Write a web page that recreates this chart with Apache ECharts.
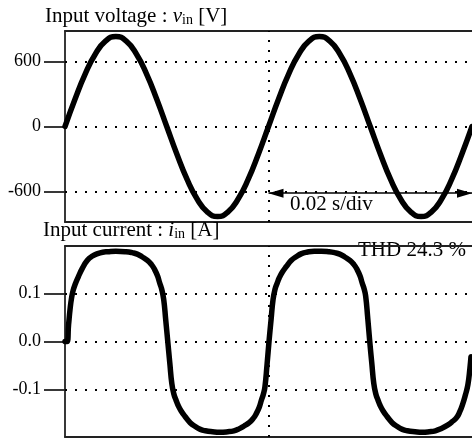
<!DOCTYPE html>
<html>
<head>
<meta charset="utf-8">
<script src="https://cdn.jsdelivr.net/npm/echarts@6/dist/echarts.min.js"></script>
<style>
  html, body { margin: 0; padding: 0; background: #fff; }
  #chart { width: 472px; height: 438px; }
</style>
</head>
<body>
<div id="chart"></div>
<script>
// Input voltage samples (time in ms, value in V)
const voltageTimeMs = [0, 1, 2, 3, 4, 5, 6, 7, 8, 9, 10, 11, 12, 13, 14, 15, 16, 17, 18, 19, 20,
  21, 22, 23, 24, 25, 26, 27, 28, 29, 30, 31, 32, 33, 34, 35, 36, 37, 38, 39, 40];
const voltageV = [0, 256, 488, 671, 789, 830, 789, 671, 488, 256, 0, -256, -488, -671, -789, -830, -789, -671, -488, -256, 0,
  256, 488, 671, 789, 830, 789, 671, 488, 256, 0, -256, -488, -671, -789, -830, -789, -671, -488, -256, 0];

// Input current samples (time in ms, value in A)
const currentTimeMs = [
  0, 0.2, 0.35, 0.5, 0.65, 0.8, 1.0, 1.3, 1.7, 2.2, 2.7, 3.2, 3.7, 4.2, 5.0,
  6.0, 6.6, 7.1, 7.6, 8.1, 8.5, 8.8, 9.1, 9.3, 9.5, 9.7, 9.9,
  10.1, 10.3, 10.5, 10.7, 10.9, 11.1, 11.4, 11.8, 12.3, 12.8, 13.3, 13.8, 14.5, 15.2,
  16.0, 16.6, 17.1, 17.6, 18.1, 18.5, 18.8, 19.1, 19.3, 19.5, 19.65, 19.85,
  20.05, 20.25, 20.45, 20.65, 20.85, 21.05, 21.35, 21.75, 22.25, 22.75, 23.25, 23.75, 24.5, 25.2,
  25.9, 26.5, 27.0, 27.5, 28.0, 28.4, 28.7, 29.0, 29.2, 29.4, 29.55, 29.75,
  29.95, 30.15, 30.35, 30.55, 30.75, 30.95, 31.25, 31.65, 32.15, 32.65, 33.15, 33.65, 34.4, 35.1,
  35.8, 36.4, 37.0, 37.6, 38.1, 38.5, 38.8, 39.1, 39.35, 39.6, 39.8, 39.9];
const currentA = [
  0, 0, 0.035, 0.068, 0.092, 0.107, 0.12, 0.135, 0.153, 0.17, 0.179, 0.184, 0.187, 0.188, 0.189,
  0.188, 0.186, 0.183, 0.177, 0.17, 0.161, 0.151, 0.137, 0.123, 0.11, 0.088, 0.045,
  0, -0.045, -0.088, -0.11, -0.122, -0.133, -0.145, -0.157, -0.17, -0.178, -0.184, -0.187, -0.189, -0.19,
  -0.189, -0.187, -0.183, -0.177, -0.17, -0.161, -0.151, -0.137, -0.123, -0.11, -0.095, -0.05,
  0, 0.045, 0.088, 0.11, 0.122, 0.133, 0.145, 0.157, 0.17, 0.178, 0.184, 0.187, 0.189, 0.189,
  0.188, 0.186, 0.183, 0.177, 0.17, 0.161, 0.151, 0.137, 0.123, 0.11, 0.095, 0.05,
  0, -0.045, -0.088, -0.11, -0.122, -0.133, -0.145, -0.157, -0.17, -0.178, -0.184, -0.187, -0.189, -0.19,
  -0.189, -0.187, -0.182, -0.175, -0.167, -0.159, -0.147, -0.13, -0.112, -0.09, -0.055, -0.032];

// Axis ticks and the time-division marker
const voltageTicks = [-600, 0, 600];
const currentTicks = [-0.1, 0, 0.1];
const divisionMs = [20, 40];
const divisionLabel = '0.02 s/div';
const thdLabel = 'THD 24.3 %';

const FONT = 'Liberation Serif';
const axisStyle = { color: '#222', width: 1.8 };
const dotStyle = { color: '#000', width: 2, type: [2, 8] };

const pairs = (xs, ys) => xs.map((x, i) => [x, ys[i]]);

function frameX(gridIndex, position) {
  return {
    type: 'value', gridIndex, position, min: 0, max: 40,
    axisLine: { show: true, onZero: false, lineStyle: axisStyle },
    axisTick: { show: false }, axisLabel: { show: false }, splitLine: { show: false }
  };
}
function leftY(gridIndex, min, max, ticks, fmt) {
  return {
    type: 'value', gridIndex, min, max,
    axisLine: { show: true, onZero: false, lineStyle: axisStyle },
    axisTick: { show: true, customValues: ticks, length: 21, inside: false, lineStyle: axisStyle },
    axisLabel: { customValues: ticks, margin: 24, fontFamily: FONT, fontSize: 18, color: '#000', formatter: fmt },
    splitLine: { show: false }
  };
}

const titleRich = {
  v: { fontFamily: FONT, fontSize: 21, fontStyle: 'italic', fontWeight: 'normal', color: '#000', lineHeight: 21, verticalAlign: 'bottom' },
  s: { fontFamily: FONT, fontSize: 14, fontWeight: 'normal', color: '#000', lineHeight: 10, verticalAlign: 'bottom' },
  n: { fontFamily: FONT, fontSize: 21, fontWeight: 'normal', color: '#000', lineHeight: 21, verticalAlign: 'bottom' }
};

const arrowHead = { symbol: 'triangle', symbolSize: [9, 15], symbolOffset: [0, 7.5] };

const option = {
  animation: false,
  backgroundColor: '#fff',
  title: [
    { text: '{n|Input voltage : }{v|v}{s|in}{n| [V]}', left: 45, top: 6, padding: 0,
      textStyle: { fontWeight: 'normal', rich: titleRich } },
    { text: '{n|Input current : }{v|i}{s|in}{n| [A]}', left: 43, top: 220, padding: 0,
      textStyle: { fontWeight: 'normal', rich: titleRich } }
  ],
  grid: [
    { left: 65, right: 0, top: 31, height: 191 },
    { left: 65, right: 0, top: 246, height: 191 }
  ],
  xAxis: [frameX(0, 'bottom'), frameX(0, 'top'), frameX(1, 'bottom'), frameX(1, 'top')],
  yAxis: [
    leftY(0, -880, 880, voltageTicks, v => String(v)),
    leftY(1, -0.2, 0.2, currentTicks, v => v.toFixed(1))
  ],
  series: [
    {
      name: 'Input voltage', type: 'line', xAxisIndex: 0, yAxisIndex: 0,
      data: pairs(voltageTimeMs, voltageV), showSymbol: false, smooth: true,
      lineStyle: { color: '#000', width: 5.5, cap: 'round', join: 'round' },
      markLine: {
        silent: true, symbol: 'none', label: { show: false }, lineStyle: dotStyle,
        data: [
          ...voltageTicks.map(v => ({ yAxis: v })),
          { xAxis: divisionMs[0] },
          [
            Object.assign({ coord: [divisionMs[0], -615], lineStyle: { type: 'solid', width: 1.5, color: '#000' } }, arrowHead),
            Object.assign({ coord: [divisionMs[1], -615] }, arrowHead)
          ]
        ]
      }
    },
    {
      name: 'Input current', type: 'line', xAxisIndex: 2, yAxisIndex: 1,
      data: pairs(currentTimeMs, currentA), showSymbol: false, smooth: 0.5,
      lineStyle: { color: '#000', width: 5.5, cap: 'round', join: 'round' },
      markLine: {
        silent: true, symbol: 'none', label: { show: false }, lineStyle: dotStyle,
        data: [...currentTicks.map(v => ({ yAxis: v })), { xAxis: divisionMs[0] }]
      }
    }
  ],
  graphic: [
    { type: 'text', left: 290, top: 194, style: { text: divisionLabel, font: '21px "Liberation Serif"', fill: '#000' } },
    { type: 'text', left: 358, top: 240, style: { text: thdLabel, font: '21px "Liberation Serif"', fill: '#000' } }
  ]
};

const chart = echarts.init(document.getElementById('chart'), null, { renderer: 'canvas' });
chart.setOption(option);
</script>
</body>
</html>
